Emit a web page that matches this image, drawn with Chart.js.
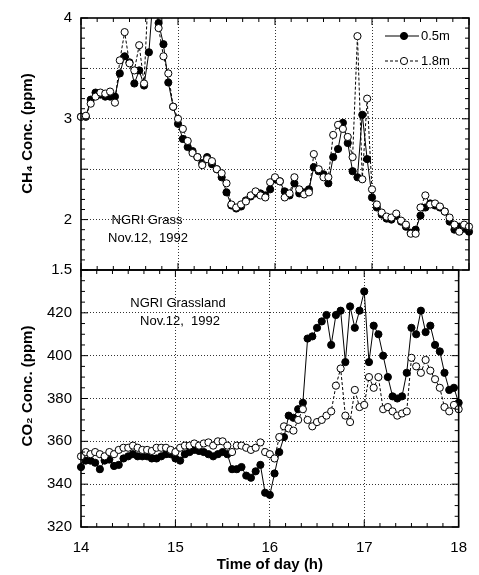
<!DOCTYPE html>
<html>
<head>
<meta charset="utf-8">
<script src="https://cdn.jsdelivr.net/npm/chart.js@4.4.0/dist/chart.umd.min.js"></script>
<style>
  body { margin: 0; background: #fff; }
  #wrap { position: relative; width: 479px; height: 575px; }
  canvas { position: absolute; left: 0; }
</style>
</head>
<body>
<div id="wrap">
  <canvas id="co2Chart" width="479" height="325" style="top:250px"></canvas>
  <canvas id="ch4Chart" width="479" height="292" style="top:0"></canvas>
</div>
<script>
// sampling times (h)
const times = [
  14.00, 14.05, 14.10, 14.15, 14.20, 14.25, 14.30, 14.35, 14.40, 14.45,
  14.50, 14.55, 14.60, 14.65, 14.70, 14.75, 14.80, 14.85, 14.90, 14.95,
  15.00, 15.05, 15.10, 15.15, 15.20, 15.25, 15.30, 15.35, 15.40, 15.45,
  15.50, 15.55, 15.60, 15.65, 15.70, 15.75, 15.80, 15.85, 15.90, 15.95,
  16.00, 16.05, 16.10, 16.15, 16.20, 16.25, 16.30, 16.35, 16.40, 16.45,
  16.50, 16.55, 16.60, 16.65, 16.70, 16.75, 16.80, 16.85, 16.90, 16.95,
  17.00, 17.05, 17.10, 17.15, 17.20, 17.25, 17.30, 17.35, 17.40, 17.45,
  17.50, 17.55, 17.60, 17.65, 17.70, 17.75, 17.80, 17.85, 17.90, 17.95,
  18.00
];

// CH4 (ppm)
const ch4_05m = [
  3.02, 3.02, 3.19, 3.26, 3.24, 3.22, 3.22, 3.22, 3.45, 3.62,
  3.56, 3.35, 3.48, 3.33, 3.66, 4.30, 3.95, 3.74, 3.36, 3.12,
  2.95, 2.80, 2.72, 2.68, 2.62, 2.56, 2.62, 2.55, 2.50, 2.42,
  2.27, 2.14, 2.11, 2.13, 2.19, 2.23, 2.26, 2.26, 2.24, 2.30,
  2.40, 2.38, 2.28, 2.24, 2.36, 2.26, 2.27, 2.30, 2.52, 2.48,
  2.45, 2.36, 2.62, 2.70, 2.96, 2.76, 2.48, 2.42, 3.04, 2.60,
  2.22, 2.12, 2.05, 2.01, 2.00, 2.04, 1.98, 1.93, 1.87, 1.90,
  2.04, 2.12, 2.16, 2.14, 2.12, 2.08, 1.98, 1.90, 1.93, 1.91,
  1.88
];
const ch4_18m = [
  3.02, 3.03, 3.15, 3.22, 3.26, 3.25, 3.27, 3.16, 3.58, 3.86,
  3.55, 3.48, 3.73, 3.35, 4.40, 4.30, 3.90, 3.62, 3.45, 3.12,
  3.00, 2.90, 2.78, 2.66, 2.62, 2.54, 2.60, 2.58, 2.50, 2.46,
  2.36, 2.15, 2.12, 2.15, 2.18, 2.24, 2.28, 2.24, 2.22, 2.37,
  2.42, 2.38, 2.22, 2.26, 2.42, 2.30, 2.25, 2.27, 2.65, 2.50,
  2.42, 2.42, 2.84, 2.94, 2.90, 2.82, 2.62, 3.82, 2.40, 3.20,
  2.30, 2.15, 2.07, 2.03, 2.02, 2.06, 1.99, 1.95, 1.86, 1.86,
  2.12, 2.24, 2.15, 2.16, 2.13, 2.08, 2.02, 1.95, 1.88, 1.95,
  1.93
];

// CO2 (ppm)
const co2_05m = [
  348, 351, 351, 350, 347, 351, 351.5, 348.5, 349, 352,
  353, 354, 353, 353, 353, 352, 352, 353, 354, 354,
  352, 351, 354, 355, 356, 355.5, 355, 354, 353, 354,
  355, 354, 347, 347, 348, 344, 343, 346, 349, 336,
  335, 345, 355, 362, 372, 371, 375, 378, 408, 409,
  413, 416, 419, 405, 419, 421, 397, 423, 413, 421,
  430, 397, 414, 410, 400, 390, 381, 380, 381, 392,
  413, 410, 421, 411, 414, 405, 402, 392, 384, 385,
  378
];
const co2_18m = [
  353, 355, 354, 355, 354, 353, 355, 354, 356, 357,
  357, 358, 357, 356, 356, 355.5, 357, 357, 357, 356,
  355, 357, 358, 358, 359, 358, 359, 359.5, 358, 360,
  360, 358, 355, 358, 358, 357, 356, 357, 359.5, 355,
  354, 352, 362, 367, 366, 365, 370, 375, 370, 367,
  369, 370, 372, 374, 386, 394, 372, 369, 384, 376,
  377, 390, 385, 390, 375, 376, 374, 372, 373, 374,
  399, 395, 392, 398, 393, 389, 385, 376, 374, 377,
  375
];

const FONT = 'Liberation Sans, Arial, Helvetica, sans-serif';

const toPoints = (vals) => times.map((t, i) => ({ x: t, y: vals[i] }));

function seriesSets(v05, v18) {
  return [
    {
      label: '1.8m',
      data: toPoints(v18),
      borderColor: '#000',
      borderWidth: 1,
      borderDash: [3, 2],
      pointRadius: 3.6,
      pointBorderWidth: 1,
      pointBackgroundColor: '#fff',
      pointBorderColor: '#000',
      clip: { left: 6, right: 6, top: 0, bottom: 6 }
    },
    {
      label: '0.5m',
      data: toPoints(v05),
      borderColor: '#000',
      borderWidth: 1,
      pointRadius: 3.6,
      pointBorderWidth: 1,
      pointBackgroundColor: '#000',
      pointBorderColor: '#000',
      clip: { left: 6, right: 6, top: 0, bottom: 6 }
    }
  ];
}

// frame, inward ticks, notes and legend
const decorPlugin = {
  id: 'decor',
  afterDraw(chart, args, opts) {
    const { ctx, chartArea: a, scales: { x, y } } = chart;
    ctx.save();
    ctx.strokeStyle = '#000';
    ctx.lineWidth = 1;
    const seg = (x1, y1, x2, y2) => { ctx.beginPath(); ctx.moveTo(x1, y1); ctx.lineTo(x2, y2); ctx.stroke(); };

    for (let i = 0; i <= 24; i++) {
      const px = x.getPixelForValue(14 + i / 6);
      const len = i % 6 === 0 ? 7 : 4;
      seg(px, a.top, px, a.top + len);
      seg(px, a.bottom, px, a.bottom - len);
    }
    const n = Math.round((y.max - y.min) / opts.yMinor);
    for (let i = 0; i <= n; i++) {
      const v = y.min + i * opts.yMinor;
      const py = y.getPixelForValue(v);
      const major = Math.abs(v / opts.yMajor - Math.round(v / opts.yMajor)) < 1e-6;
      const len = major ? 7 : 4;
      seg(a.left, py, a.left + len, py);
      seg(a.right, py, a.right - len, py);
    }
    ctx.lineWidth = 1.6;
    ctx.strokeRect(a.left, a.top, a.right - a.left, a.bottom - a.top);

    ctx.fillStyle = '#000';
    ctx.font = '13px ' + FONT;
    ctx.textAlign = 'center';
    ctx.textBaseline = 'middle';
    (opts.notes || []).forEach(n => ctx.fillText(n.text, n.x, n.y));

    if (opts.legend) {
      const rows = [
        { text: '0.5m', y: 36, dash: [], fill: '#000' },
        { text: '1.8m', y: 61, dash: [3, 2], fill: '#fff' }
      ];
      ctx.textAlign = 'left';
      rows.forEach(r => {
        ctx.lineWidth = 1.2;
        ctx.setLineDash(r.dash);
        seg(385, r.y, 419, r.y);
        ctx.setLineDash([]);
        ctx.beginPath();
        ctx.arc(404, r.y, 3.6, 0, Math.PI * 2);
        ctx.fillStyle = r.fill;
        ctx.fill();
        ctx.lineWidth = 1;
        ctx.stroke();
        ctx.fillStyle = '#000';
        ctx.fillText(r.text, 421, r.y);
      });
    }
    ctx.restore();
  }
};

const gridColor = (lo, hi) => (c) => {
  const v = c.tick ? c.tick.value : null;
  return (v === lo || v === hi) ? 'rgba(0,0,0,0)' : '#333';
};

function makeChart(id, cfg) {
  return new Chart(document.getElementById(id), {
    type: 'line',
    data: { datasets: seriesSets(cfg.v05, cfg.v18) },
    plugins: [decorPlugin],
    options: {
      responsive: false,
      animation: false,
      devicePixelRatio: 1,
      layout: { padding: { left: 0, right: 10, top: cfg.padTop, bottom: cfg.padBottom } },
      plugins: {
        legend: { display: false },
        tooltip: { enabled: false },
        decor: { yMinor: cfg.yMinor, yMajor: cfg.yStep, notes: cfg.notes, legend: cfg.legend }
      },
      scales: {
        x: {
          type: 'linear',
          min: 14,
          max: 18,
          afterFit: (s) => { s.height = cfg.xHeight; },
          ticks: {
            display: cfg.xLabels,
            stepSize: 1,
            padding: 12,
            color: '#000',
            font: { size: 15, family: FONT }
          },
          grid: { drawTicks: false, color: gridColor(14, 18), lineWidth: 1 },
          border: { display: false, dash: [1, 2] },
          title: {
            display: cfg.xLabels,
            text: 'Time of day (h)',
            color: '#000',
            font: { size: 15, weight: 'bold', family: FONT },
            padding: { top: 0, bottom: 1 }
          }
        },
        y: {
          min: cfg.yMin,
          max: cfg.yMax,
          afterFit: (s) => { s.width = 81; },
          ticks: {
            stepSize: cfg.yStep,
            autoSkip: false,
            padding: 9,
            color: '#000',
            font: { size: 15, family: FONT },
            callback: (v) => cfg.yShown.includes(v) ? String(v) : ''
          },
          grid: { drawTicks: false, color: gridColor(cfg.yMin, cfg.yMax), lineWidth: 1 },
          border: { display: false, dash: [1, 2] },
          title: {
            display: true,
            text: cfg.yTitle,
            color: '#000',
            font: { size: 15, weight: 'bold', family: FONT },
            padding: { top: 19, bottom: 0 }
          }
        }
      }
    }
  });
}

// leading spaces nudge the rotated titles upward a little
makeChart('ch4Chart', {
  v05: ch4_05m, v18: ch4_18m,
  yMin: 1.5, yMax: 4, yStep: 0.5, yMinor: 0.1, yShown: [1.5, 2, 3, 4],
  yTitle: '     CH\u2084 Conc. (ppm)',
  padTop: 15, padBottom: 22, xHeight: 0, xLabels: false, legend: true,
  notes: [
    { text: 'NGRI Grass', x: 147, y: 220 },
    { text: 'Nov.12,  1992', x: 148, y: 238 }
  ]
});

makeChart('co2Chart', {
  v05: co2_05m, v18: co2_18m,
  yMin: 320, yMax: 440, yStep: 20, yMinor: 5, yShown: [320, 340, 360, 380, 400, 420],
  yTitle: '      CO\u2082 Conc. (ppm)',
  padTop: 20, padBottom: 0, xHeight: 48, xLabels: true, legend: false,
  notes: [
    { text: 'NGRI Grassland', x: 178, y: 53 },
    { text: 'Nov.12,  1992', x: 180, y: 71 }
  ]
});
</script>
</body>
</html>
